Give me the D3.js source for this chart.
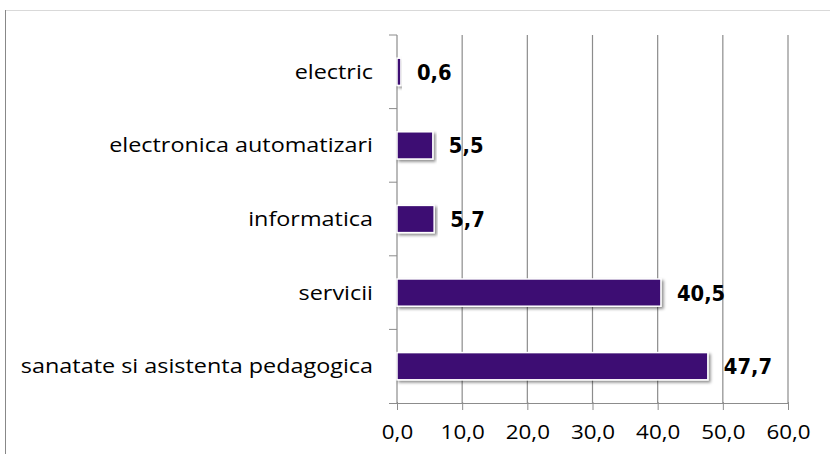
<!DOCTYPE html>
<html>
<head>
<meta charset="utf-8">
<style>
body { margin: 0; background: #fff; }
.tick text { font-family: "Open Sans", sans-serif; }
</style>
</head>
<body>
<svg width="830" height="454"></svg>
<script src="https://d3js.org/d3.v7.min.js"></script>
<script>
var categories = ["electric", "electronica automatizari", "informatica", "servicii", "sanatate si asistenta pedagogica"];
var values = [0.6, 5.5, 5.7, 40.5, 47.7];
var xTicks = [0, 10, 20, 30, 40, 50, 60];

var svg = d3.select("svg"),
    margin = {left: 397, top: 35, right: 42, bottom: 51},
    width = 830 - margin.left - margin.right,
    height = 454 - margin.top - margin.bottom;

// chart frame
svg.append("rect")
    .attr("x", 5.5).attr("y", 10.5)
    .attr("width", 860).attr("height", 500)
    .attr("fill", "none").attr("stroke", "#d9d9d9");
svg.append("line")
    .attr("x1", 5.5).attr("x2", 5.5).attr("y1", 10).attr("y2", 454)
    .attr("stroke", "#888");

var defs = svg.append("defs");
var f = defs.append("filter").attr("id", "shadow").attr("x", "-5%").attr("y", "-30%").attr("width", "115%").attr("height", "180%");
f.append("feDropShadow").attr("dx", 2).attr("dy", 2).attr("stdDeviation", 1.5).attr("flood-color", "#000").attr("flood-opacity", 0.45);

var g = svg.append("g").attr("transform", "translate(" + margin.left + "," + margin.top + ")");

var x = d3.scaleLinear().domain([0, 60]).range([0, width]);
var y = d3.scaleBand().domain(categories).range([0, height]).paddingInner(0.63).paddingOuter(0.315);
var yEdges = d3.scaleLinear().domain([0, categories.length]).range([0, height]);

// gridlines
g.selectAll(".grid").data(xTicks.slice(1)).enter().append("line")
    .attr("x1", function(d) { return x(d); }).attr("x2", function(d) { return x(d); })
    .attr("y1", 0).attr("y2", height)
    .attr("stroke", "#8c8c8c").attr("stroke-width", 1.2);

// x axis
var xAxis = g.append("g").attr("transform", "translate(0," + height + ")")
    .call(d3.axisBottom(x).tickValues(xTicks).tickSize(7).tickSizeOuter(0)
        .tickFormat(function(d) { return d3.format(".1f")(d).replace(".", ","); }));
xAxis.select(".domain").attr("stroke", "#8c8c8c").attr("d", "M-8,0.5H" + width);
xAxis.selectAll(".tick line").attr("stroke", "#8c8c8c").attr("y1", -1);
xAxis.selectAll(".tick text").attr("font-size", 20).attr("fill", "#000")
    .attr("y", 22).attr("dy", "0.71em").attr("transform", "scale(1.12,1)");

// y axis
g.append("line").attr("x1", 0).attr("x2", 0).attr("y1", 0).attr("y2", height).attr("stroke", "#8c8c8c").attr("stroke-width", 1.2);
g.selectAll(".ytick").data(d3.range(categories.length)).enter().append("line")
    .attr("x1", -8).attr("x2", 0)
    .attr("y1", function(d) { return yEdges(d); }).attr("y2", function(d) { return yEdges(d); })
    .attr("stroke", "#8c8c8c");
g.selectAll(".ylabel").data(categories).enter().append("text")
    .attr("transform", function(d) { return "translate(-24," + (y(d) + y.bandwidth() / 2) + ") scale(1.17,1)"; })
    .attr("dy", "0.35em").attr("text-anchor", "end")
    .attr("font-family", "Open Sans, sans-serif").attr("font-size", 20).attr("fill", "#000")
    .text(function(d) { return d; });

// bars
g.selectAll(".bar").data(values).enter().append("rect")
    .attr("x", 0)
    .attr("y", function(d, i) { return y(categories[i]); })
    .attr("width", function(d) { return x(d); })
    .attr("height", y.bandwidth())
    .attr("fill", "#3d0f73")
    .attr("stroke", "#fff").attr("stroke-width", 1.5)
    .attr("filter", "url(#shadow)");

// value labels
g.selectAll(".val").data(values).enter().append("text")
    .attr("transform", function(d, i) { return "translate(" + (x(d) + 16) + "," + (y(categories[i]) + y.bandwidth() / 2) + ") scale(1.03,1.12)"; })
    .attr("dy", "0.38em")
    .attr("font-family", "DejaVu Sans, sans-serif").attr("font-weight", "bold").attr("font-size", 19)
    .attr("fill", "#000")
    .text(function(d) { return d3.format(".1f")(d).replace(".", ","); });
</script>
</body>
</html>
